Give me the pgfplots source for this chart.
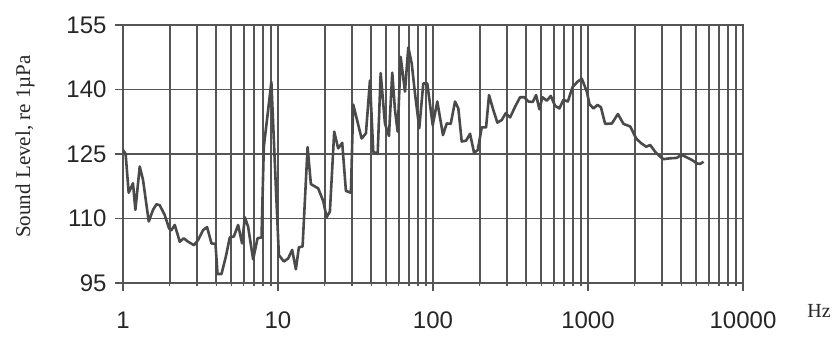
\documentclass[border=0pt]{standalone}
\usepackage{fontspec}
\setmainfont{Liberation Serif}
\newfontfamily\arialf{Liberation Sans}
\usepackage{pgfplots}
\pgfplotsset{compat=1.18}
\definecolor{lc}{HTML}{4A4A4A}
\definecolor{gc}{HTML}{555555}
\begin{document}
\begin{tikzpicture}[x=1pt,y=1pt]
\useasboundingbox (0,0) rectangle (836,339);
\begin{axis}[
  at={(123pt,56pt)}, anchor=south west,
  scale only axis, width=620pt, height=258pt,
  xmode=log, xmin=1, xmax=10000, ymin=95, ymax=155,
  xtick={1,10,100,1000,10000}, xticklabels={1,10,100,1000,10000},
  extra x ticks={2,3,4,5,6,7,8,9,20,30,40,50,60,70,80,90,200,300,400,500,600,700,800,900,2000,3000,4000,5000,6000,7000,8000,9000},
  extra x tick labels={},
  extra x tick style={major tick length=0pt, grid=major},
  ytick={95,110,125,140,155},
  xmajorgrids, ymajorgrids,
  major grid style={line width=1.8pt, gc},
  axis line style={line width=1.8pt, gc},
  tick style={line width=1.5pt, gc},
  tick align=outside, major tick length=8pt,
  xtick pos=bottom, ytick pos=left,
  /pgf/number format/assume math mode=true,
  xticklabel style={font=\arialf\fontsize{24}{24}\selectfont, text=black!85, yshift=-17pt},
  yticklabel style={font=\arialf\fontsize{24}{24}\selectfont, text=black!85, xshift=-5pt},
  ylabel={Sound Level, re 1µPa},
  ylabel style={at={(axis description cs:-0.158,0.529)}, anchor=center, font=\fontsize{21}{21}\selectfont, text=black!85},
  xlabel={Hz},
  xlabel style={at={(axis description cs:1.1226,-0.1085)}, anchor=center, font=\fontsize{20}{20}\selectfont, text=black!85},
]
\addplot[lc, line width=2.6pt, line join=round, mark=none] coordinates {
(1,125.9) (1.04,125) (1.088,116.0) (1.16,118.2) (1.202,112) (1.282,122.1) (1.346,119) (1.466,109.3) (1.562,112) (1.643,113.3) (1.726,113.1) (1.859,110.8) (1.982,107.7) (2.054,107.3) (2.158,108.5) (2.324,104.6) (2.466,105.4) (2.63,104.6) (2.874,103.8) (3.05,105) (3.287,107.3) (3.487,108) (3.724,104.2) (3.952,104.1) (4.071,97.1) (4.32,97.1) (4.606,101.1) (4.887,105.6) (5.187,105.8) (5.529,108.5) (5.868,104.2) (6.108,110.3) (6.415,108.1) (6.911,100.5) (7.379,105.4) (7.83,105.6) (8.101,126.7) (8.637,135.2) (9.06,141.8) (9.685,117.4) (10.13,101.5) (10.91,100) (11.63,100.7) (12.34,102.7) (13.04,98.2) (13.64,103.3) (14.41,103.5) (15.52,126.6) (16.3,118) (18.17,117) (19.57,114.1) (20.58,110.3) (21.62,111.6) (23.05,130.2) (24.46,126.3) (25.96,127.6) (27.43,116.4) (29.54,116) (30.57,136.5) (34.64,128.6) (36.93,129.8) (39.2,142.1) (41.17,125.5) (43.96,125) (45.96,143.8) (48.98,132.1) (51.98,129.2) (54.6,143.9) (56.84,135.2) (59.17,130.2) (61.86,147.6) (65.95,139.5) (69.27,149.8) (72.87,146.1) (76.53,139.1) (81.56,131) (86.57,141.4) (91.88,141.4) (99.55,131.7) (106.6,137.2) (116,129.4) (122.6,132.1) (130.1,132) (138.7,137.2) (145.7,135.6) (153.2,127.9) (163.4,128.1) (173.4,129.7) (184,125.3) (194.4,125.9) (206.3,131.2) (220,131.2) (229.9,138.7) (245.1,135.2) (260.2,132.3) (277.7,132.9) (294.8,134.5) (314.4,133.5) (338.5,136) (364.6,138.2) (388.6,138.2) (412.4,137.2) (440.3,137.1) (462.5,138.7) (485.9,135.4) (507.9,138.2) (542.3,137.4) (575.4,138.5) (613.5,136.2) (654,135.6) (694,137.6) (741,137.2) (793.4,140.5) (854.8,141.8) (912.6,142.5) (983,139.5) (1022,136.6) (1084,135.6) (1151,136.4) (1211,135.9) (1290,132) (1426,132.1) (1559,134.3) (1694,132) (1872,131.4) (2046,128.6) (2204,127.5) (2375,126.7) (2520,127.1) (2714,125.5) (2894,124.5) (3071,123.8) (3393,124) (3748,124.1) (3996,124.8) (4240,124.4) (4684,123.6) (5047,122.8) (5301,122.7) (5566,123.2)
};
\end{axis}
\end{tikzpicture}
\end{document}
